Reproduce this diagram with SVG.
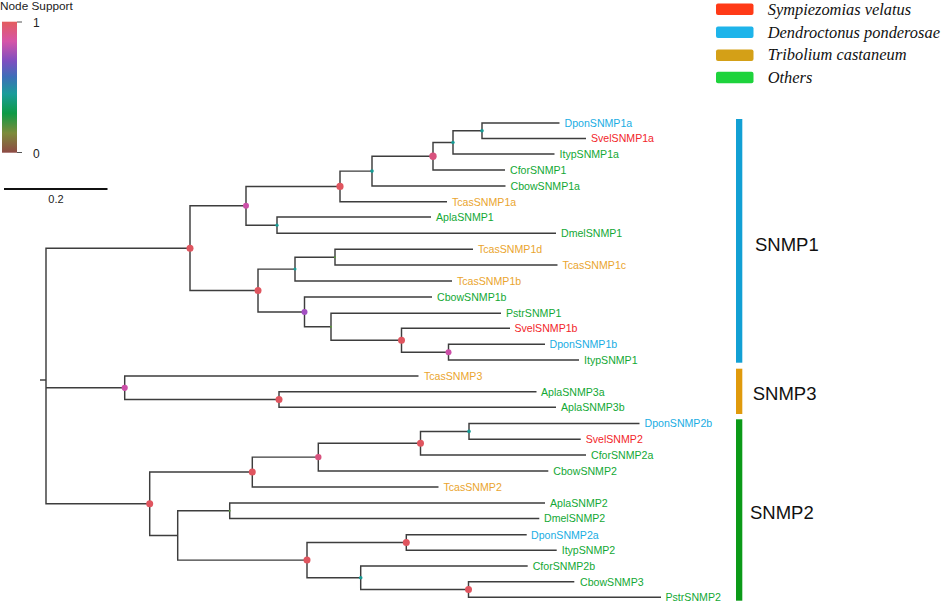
<svg xmlns="http://www.w3.org/2000/svg" width="941" height="607" viewBox="0 0 941 607">
<defs>
<linearGradient id="sup" x1="0" y1="0" x2="0" y2="1">
<stop offset="0" stop-color="#E35D5E"/>
<stop offset="0.15" stop-color="#D655A8"/>
<stop offset="0.3" stop-color="#7E4FC0"/>
<stop offset="0.42" stop-color="#3D6EB8"/>
<stop offset="0.55" stop-color="#1A9C9A"/>
<stop offset="0.7" stop-color="#0E9A45"/>
<stop offset="0.85" stop-color="#7D8B3A"/>
<stop offset="1" stop-color="#8E4A45"/>
</linearGradient>
<style>
.t{font-family:"Liberation Sans",Arial,sans-serif;font-size:10.6px}
.sv{fill:#F2262A}.dp{fill:#19ADE3}.tc{fill:#EAA52E}.ot{fill:#12A834}
.lg{font-family:"Liberation Serif","Times New Roman",serif;font-style:italic;font-size:16.4px;fill:#111}
.cl{font-family:"Liberation Sans",Arial,sans-serif;font-size:18.5px;fill:#111}
.ax{font-family:"Liberation Sans",Arial,sans-serif;font-size:11px;fill:#222}
.e{fill:none;stroke:#3d3d3d;stroke-width:1.45}
.r{fill:#E0555F}.pk{fill:#D8527E}.mg{fill:#CC4FA8}.pu{fill:#A34FC2}.tl{fill:#179C95}.gr{fill:#5E9A40}
</style>
</defs>
<rect width="941" height="607" fill="#fff"/>

<g id="support-legend">
<text x="0" y="9.5" class="ax" style="font-size:11.8px">Node Support</text>
<rect x="2" y="21.7" width="15" height="131" fill="url(#sup)"/>
<path d="M17 22 H22 M17 152.5 H22" stroke="#555" stroke-width="1"/>
<text x="33" y="27" class="ax" style="font-size:12px">1</text>
<text x="33" y="158" class="ax" style="font-size:12px">0</text>
</g>
<g id="scale-bar">
<line x1="4" y1="189" x2="107.5" y2="189" stroke="#111" stroke-width="2"/>
<text x="56" y="203" class="ax" text-anchor="middle">0.2</text>
</g>

<g id="species-legend">
<rect x="716" y="3.5" width="37.5" height="11.5" rx="2" fill="#FF3A17"/>
<rect x="716" y="26.5" width="37.5" height="11.5" rx="2" fill="#1EB4EA"/>
<rect x="716" y="49.5" width="37.5" height="11.5" rx="2" fill="#D4A017"/>
<rect x="716" y="71.7" width="37.5" height="11.5" rx="2" fill="#1ED33C"/>
<text x="767.7" y="15" class="lg">Sympiezomias velatus</text>
<text x="767.7" y="37.5" class="lg">Dendroctonus ponderosae</text>
<text x="767.7" y="60" class="lg">Tribolium castaneum</text>
<text x="767.7" y="82.5" class="lg">Others</text>
</g>

<g id="connectors">
<path class="e" d="M40 380 H46"/>
<path class="e" d="M190 248.2 H46 V503.7 H149.7 M46 387.8 H124.7"/>
<path class="e" d="M559.5 123 H482 V138.5 H586"/>
<path class="e" d="M482 130.75 H453 V154 H554.5"/>
<path class="e" d="M453 142.4 H433 V170 H505"/>
<path class="e" d="M433 156.2 H372 V186 H505.5"/>
<path class="e" d="M372 171.1 H340 V201.7 H447"/>
<path class="e" d="M431 217 H277 V233.3 H556"/>
<path class="e" d="M340 186.4 H246 V225.2 H277"/>
<path class="e" d="M473 249.3 H335 V265 H557.5"/>
<path class="e" d="M335 257.2 H295 V281 H452"/>
<path class="e" d="M545 344.3 H448.5 V360 H579"/>
<path class="e" d="M510 328.3 H401.5 V352.2 H448.5"/>
<path class="e" d="M501 313.3 H331 V340.2 H401.5"/>
<path class="e" d="M432 297 H304.5 V326.8 H331"/>
<path class="e" d="M295 269.1 H258 V311.9 H304.5"/>
<path class="e" d="M246 205.8 H190 V290.5 H258"/>
<path class="e" d="M536.5 391.7 H279 V407.3 H556"/>
<path class="e" d="M418.5 376 H124.7 V399.5 H279"/>
<path class="e" d="M639.5 423.5 H469 V439.3 H580.7"/>
<path class="e" d="M469 431.4 H420.5 V455 H586"/>
<path class="e" d="M420.5 443.2 H318.3 V471 H548.3"/>
<path class="e" d="M318.3 457.1 H252.3 V487 H438.5"/>
<path class="e" d="M545 503 H229.7 V518.5 H539.3"/>
<path class="e" d="M526.7 534.7 H406.3 V550.3 H556.7"/>
<path class="e" d="M574.3 581.7 H468.5 V597.3 H661"/>
<path class="e" d="M527.7 566 H360.7 V589.5 H468.5"/>
<path class="e" d="M406.3 542.5 H307 V577.8 H360.7"/>
<path class="e" d="M229.7 510.8 H177.7 V560.1 H307"/>
<path class="e" d="M252.3 472 H149.7 V535.5 H177.7"/>
</g>

<g id="internal-nodes">
<circle id="n1" cx="482" cy="130.75" r="1.8" class="tl"/>
<circle id="n2" cx="453" cy="142.4" r="1.7" class="tl"/>
<circle id="n3" cx="433" cy="156.2" r="3.7" class="pk"/>
<circle id="n4" cx="372" cy="171.1" r="1.8" class="tl"/>
<circle id="n5" cx="340" cy="186.4" r="3.6" class="r"/>
<circle id="n6" cx="277" cy="225.2" r="1.6" class="tl"/>
<circle id="n7" cx="246" cy="205.8" r="3" class="mg"/>
<circle id="n8" cx="190" cy="248.2" r="3.5" class="r"/>
<circle id="n9" cx="335" cy="257.2" r="1" class="gr"/>
<circle id="n10" cx="295" cy="269.1" r="1.5" class="tl"/>
<circle id="n11" cx="258" cy="290.5" r="3.5" class="r"/>
<circle id="n12" cx="331" cy="326.8" r="1" class="gr"/>
<circle id="n13" cx="401.5" cy="340.2" r="3.5" class="r"/>
<circle id="n14" cx="448.5" cy="352.2" r="3" class="mg"/>
<circle id="n15" cx="304.5" cy="311.9" r="3" class="pu"/>
<circle id="n16" cx="279" cy="399.5" r="3.5" class="r"/>
<circle id="n17" cx="124.7" cy="387.8" r="3.1" class="mg"/>
<circle id="n18" cx="469" cy="431.4" r="1.8" class="tl"/>
<circle id="n19" cx="420.5" cy="443.2" r="3.5" class="r"/>
<circle id="n20" cx="318.3" cy="457.1" r="3.2" class="pk"/>
<circle id="n21" cx="252.3" cy="472" r="3.5" class="r"/>
<circle id="n22" cx="229.7" cy="510.8" r="1" class="gr"/>
<circle id="n23" cx="406.3" cy="542.5" r="3.5" class="r"/>
<circle id="n24" cx="468.5" cy="589.5" r="3.5" class="r"/>
<circle id="n25" cx="360.7" cy="577.8" r="1.8" class="tl"/>
<circle id="n26" cx="307" cy="560.1" r="3.5" class="r"/>
<circle id="n28" cx="149.7" cy="503.7" r="3.5" class="r"/>
</g>

<g id="leaves" class="t">
<text id="DponSNMP1a" x="564.5" y="126.8" class="dp">DponSNMP1a</text>
<text id="SvelSNMP1a" x="591" y="142.3" class="sv">SvelSNMP1a</text>
<text id="ItypSNMP1a" x="559.5" y="157.8" class="ot">ItypSNMP1a</text>
<text id="CforSNMP1" x="510" y="173.8" class="ot">CforSNMP1</text>
<text id="CbowSNMP1a" x="510.5" y="189.8" class="ot">CbowSNMP1a</text>
<text id="TcasSNMP1a" x="452" y="205.5" class="tc">TcasSNMP1a</text>
<text id="AplaSNMP1" x="436" y="220.8" class="ot">AplaSNMP1</text>
<text id="DmelSNMP1" x="561" y="237.1" class="ot">DmelSNMP1</text>
<text id="TcasSNMP1d" x="478" y="253.1" class="tc">TcasSNMP1d</text>
<text id="TcasSNMP1c" x="562.5" y="268.8" class="tc">TcasSNMP1c</text>
<text id="TcasSNMP1b" x="457" y="284.8" class="tc">TcasSNMP1b</text>
<text id="CbowSNMP1b" x="437" y="300.8" class="ot">CbowSNMP1b</text>
<text id="PstrSNMP1" x="506" y="317.1" class="ot">PstrSNMP1</text>
<text id="SvelSNMP1b" x="514.5" y="332.1" class="sv">SvelSNMP1b</text>
<text id="DponSNMP1b" x="549.5" y="348.1" class="dp">DponSNMP1b</text>
<text id="ItypSNMP1" x="584" y="363.8" class="ot">ItypSNMP1</text>
<text id="TcasSNMP3" x="424" y="379.8" class="tc">TcasSNMP3</text>
<text id="AplaSNMP3a" x="541" y="395.5" class="ot">AplaSNMP3a</text>
<text id="AplaSNMP3b" x="561" y="411.1" class="ot">AplaSNMP3b</text>
<text id="DponSNMP2b" x="644.5" y="427.3" class="dp">DponSNMP2b</text>
<text id="SvelSNMP2" x="585.7" y="443.1" class="sv">SvelSNMP2</text>
<text id="CforSNMP2a" x="591" y="458.8" class="ot">CforSNMP2a</text>
<text id="CbowSNMP2" x="553.3" y="474.8" class="ot">CbowSNMP2</text>
<text id="TcasSNMP2" x="443.5" y="490.8" class="tc">TcasSNMP2</text>
<text id="AplaSNMP2" x="550" y="506.8" class="ot">AplaSNMP2</text>
<text id="DmelSNMP2" x="544" y="522.3" class="ot">DmelSNMP2</text>
<text id="DponSNMP2a" x="531" y="538.5" class="dp">DponSNMP2a</text>
<text id="ItypSNMP2" x="561.7" y="554.1" class="ot">ItypSNMP2</text>
<text id="CforSNMP2b" x="532.7" y="569.8" class="ot">CforSNMP2b</text>
<text id="CbowSNMP3" x="580" y="585.5" class="ot">CbowSNMP3</text>
<text id="PstrSNMP2" x="665.5" y="601.1" class="ot">PstrSNMP2</text>
</g>

<g id="clade-SNMP1">
<rect x="736" y="119" width="6.3" height="243.7" fill="#12A0D4"/>
<text x="755" y="250.7" class="cl">SNMP1</text>
</g>
<g id="clade-SNMP3">
<rect x="736" y="368.7" width="6.3" height="45.3" fill="#E09A0C"/>
<text x="752.7" y="400" class="cl">SNMP3</text>
</g>
<g id="clade-SNMP2">
<rect x="736" y="419.3" width="6.3" height="181.4" fill="#0B9A18"/>
<text x="750" y="519.3" class="cl">SNMP2</text>
</g>
</svg>
